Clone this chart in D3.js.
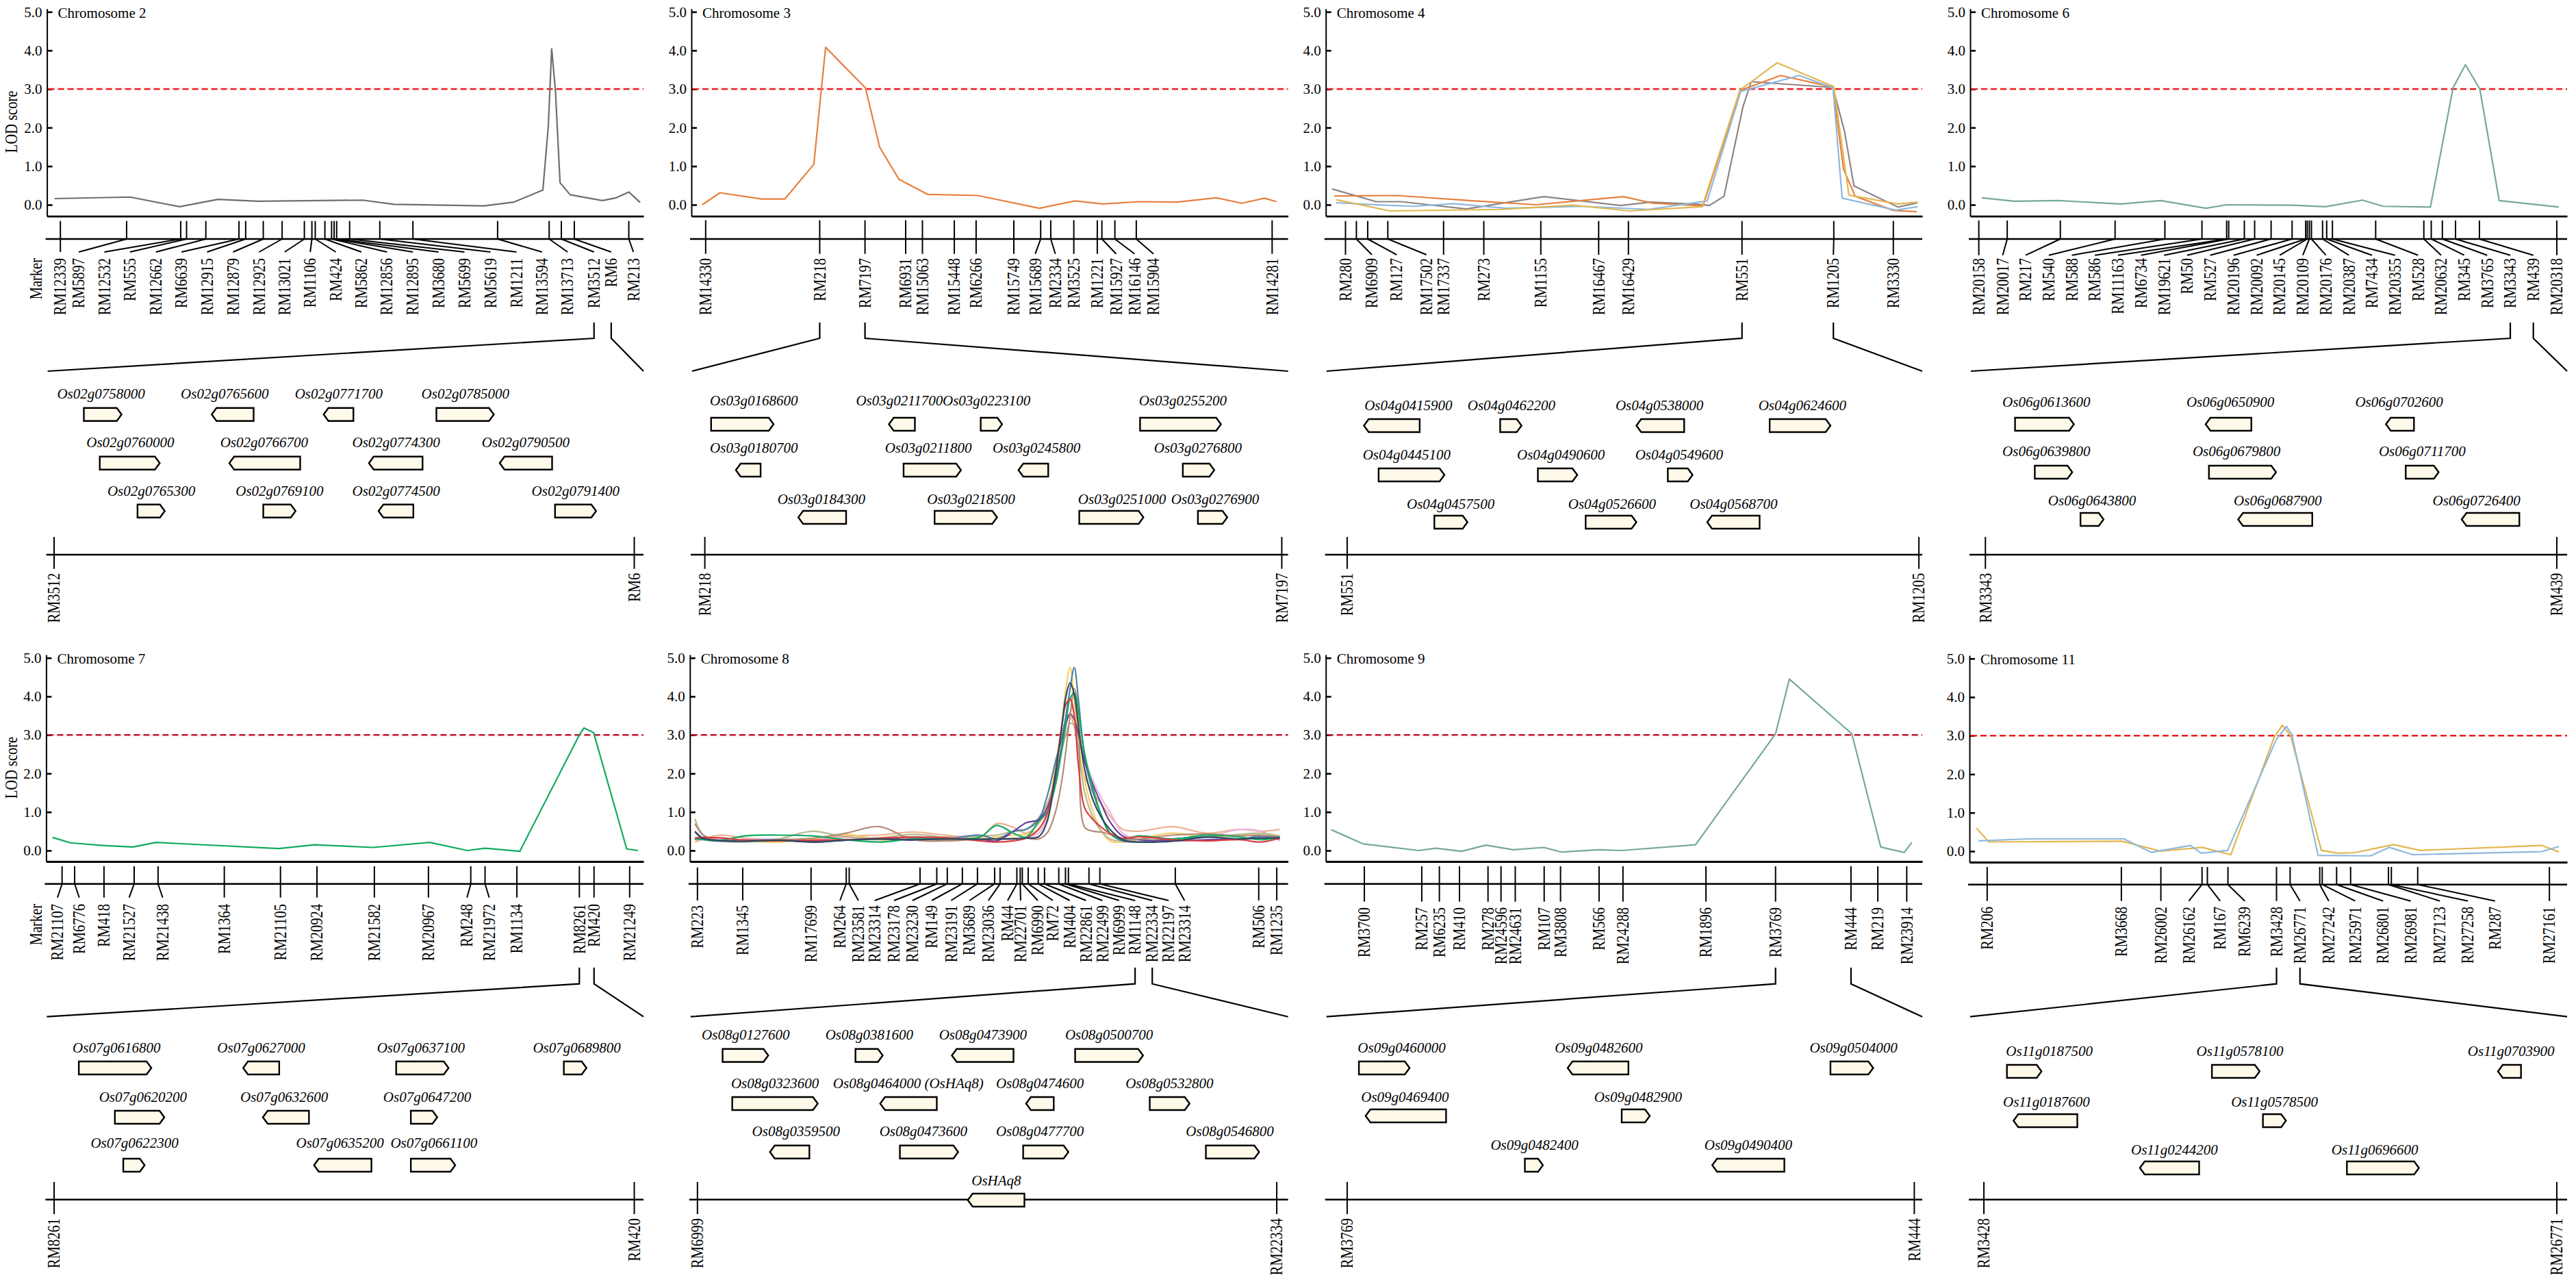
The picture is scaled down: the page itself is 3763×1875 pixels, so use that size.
<!DOCTYPE html>
<html>
<head>
<meta charset="utf-8">
<title>QTL map</title>
<script src="https://cdn.jsdelivr.net/npm/d3@7"></script>
<style>
  body { margin: 0; background: #fff; }
  text { font-family: "Liberation Serif", "Times New Roman", serif; fill: #000; }
</style>
</head>
<body>
<div id="vis"></div>
<script>
// ---- data, map positions are in arbitrary units along each chromosome panel

var lodTicks = [0, 1, 2, 3, 4, 5];
var threshold = 3;

// chromosome 2
var chr2Markers = ["RM12339","RM5897","RM12532","RM555","RM12662","RM6639","RM12915","RM12879","RM12925","RM13021","RM1106","RM424","RM5862","RM12856","RM12895","RM3680","RM5699","RM5619","RM1211","RM13594","RM13713","RM3512","RM6","RM213"];
var chr2MarkerPos = [144,302,431,445,491,570,586,628,673,726,744,752,775,791,797,803,834,906,985,1187,1310,1339,1370,1500];
var chr2LabelPos = [144,188,249,310,372,433,494,556,618,679,740,801,862,923,985,1046,1108,1170,1232,1293,1354,1417,1458,1511];
var chr2Pos = [130,310,428,520,615,865,940,1155,1226,1295,1308,1316,1325,1336,1360,1437,1470,1500,1527];
var chr2Lod = [.16,.2,-.05,.14,.09,.12,.01,-.03,.07,.38,2.05,4.04,2.95,.57,.26,.11,.18,.33,.06];
var chr2Genes = [
  ["Os02g0758000",0,241,200,290,1],["Os02g0765600",0,536,505,605,-1],["Os02g0771700",0,808,772,843,-1],["Os02g0785000",0,1110,1041,1178,1],
  ["Os02g0760000",1,311,238,381,1],["Os02g0766700",1,630,547,716,-1],["Os02g0774300",1,945,880,1008,-1],["Os02g0790500",1,1254,1192,1317,-1],
  ["Os02g0765300",2,361,328,393,1],["Os02g0769100",2,667,628,705,1],["Os02g0774500",2,945,903,986,-1],["Os02g0791400",2,1373,1324,1422,1]
];

// chromosome 3
var chr3Markers = ["RM14330","RM218","RM7197","RM6931","RM15063","RM15448","RM6266","RM15749","RM15689","RM2334","RM3525","RM1221","RM15927","RM16146","RM15904","RM14281"];
var chr3MarkerPos = [116,388,496,593,633,709,761,851,915,939,994,1050,1061,1092,1143,1467];
var chr3LabelPos = [116,388,496,593,633,709,761,851,902,950,994,1050,1095,1139,1184,1467];
var chr3Pos = [108,150,250,305,374,402,497,531,577,645,765,912,998,1063,1150,1240,1333,1395,1449,1477];
var chr3Lod = [0,.31,.15,.15,1.05,4.08,3.03,1.49,.66,.27,.24,-.09,.1,.02,.08,.07,.18,.04,.17,.08];
var chr3Genes = [
  ["Os03g0168600",0,231,129,278,1],["Os03g0211700",0,578,553,615,-1],["Os03g0223100",0,786,772,823,1],["Os03g0255200",0,1254,1152,1345,1],
  ["Os03g0180700",1,231,188,247,-1],["Os03g0211800",1,647,588,725,1],["Os03g0245800",1,905,862,933,-1],["Os03g0276800",1,1290,1254,1329,1],
  ["Os03g0184300",2,392,337,451,-1],["Os03g0218500",2,749,662,811,1],["Os03g0251000",2,1109,1007,1160,1],["Os03g0276900",2,1331,1290,1360,1]
];

// chromosome 4
var chr4Markers = ["RM280","RM6909","RM127","RM17502","RM17337","RM273","RM1155","RM16467","RM16429","RM551","RM1205","RM3330"];
var chr4MarkerPos = [107,133,160,208,341,437,573,711,782,1053,1272,1414];
var chr4LabelPos = [107,170,229,300,341,437,573,711,782,1053,1271,1414];
var chr4GrayPos = [75,180,240,395,580,764,835,950,975,1010,1055,1075,1270,1298,1320,1425,1472];
var chr4GrayLod = [.41,.08,.08,-.11,.21,-.02,.07,.01,-.02,.22,2.53,3.19,3.04,1.88,.49,-.06,.05];
var chr4OrangePos = [80,230,415,560,770,840,960,1050,1145,1270,1295,1323,1415,1470];
var chr4OrangeLod = [.23,.24,.1,0,.21,.04,-.03,2.97,3.35,3.05,.93,.22,-.15,-.18];
var chr4BluePos = [85,200,270,365,490,670,830,970,1050,1190,1270,1292,1420,1472];
var chr4BlueLod = [.05,-.01,-.04,.03,-.09,-.04,-.12,.1,2.94,3.35,3.03,.17,-.14,-.05];
var chr4YellowPos = [85,213,480,650,785,958,1048,1137,1272,1308,1425,1472];
var chr4YellowLod = [.13,-.16,-.12,-.01,-.16,-.05,2.97,3.68,3.06,.25,.02,.07];
var chr4Genes = [
  ["Os04g0415900",0,257,151,284,-1],["Os04g0462200",0,503,476,527,1],["Os04g0538000",0,856,801,915,-1],["Os04g0624600",0,1197,1119,1264,1],
  ["Os04g0445100",1,253,186,343,1],["Os04g0490600",1,621,566,660,1],["Os04g0549600",1,903,876,935,1],
  ["Os04g0457500",2,358,319,398,1],["Os04g0526600",2,743,680,801,1],["Os04g0568700",2,1033,970,1095,-1]
];

// chromosome 6
var chr6Markers = ["RM20158","RM20017","RM217","RM540","RM588","RM586","RM11163","RM6734","RM19621","RM50","RM527","RM20196","RM20092","RM20145","RM20109","RM20176","RM20387","RM7434","RM20355","RM528","RM20632","RM345","RM3765","RM3343","RM439","RM20318"];
var chr6MarkerPos = [118,187,316,449,570,660,720,725,763,788,828,879,912,916,921,926,953,963,977,1082,1199,1217,1244,1276,1334,1522];
var chr6LabelPos = [118,176,232,288,344,400,456,512,568,624,680,737,793,849,905,961,1017,1073,1129,1185,1241,1297,1353,1409,1465,1522];
var chr6Pos = [125,205,310,462,560,670,720,880,960,1050,1100,1215,1270,1300,1335,1382,1527];
var chr6Lod = [.18,.09,.11,.02,.11,-.09,0,-.01,-.05,.12,-.04,-.06,3.03,3.63,3,.11,-.06];
var chr6Genes = [
  ["Os06g0613600",0,282,206,349,1],["Os06g0650900",0,729,669,780,-1],["Os06g0702600",0,1139,1107,1175,-1],
  ["Os06g0639800",1,282,254,345,1],["Os06g0679800",1,744,677,840,1],["Os06g0711700",1,1195,1155,1235,1],
  ["Os06g0643800",2,393,365,421,1],["Os06g0687900",2,844,748,928,-1],["Os06g0726400",2,1327,1291,1431,-1]
];

// chromosome 7
var chr7Markers = ["RM21107","RM6776","RM418","RM21527","RM21438","RM1364","RM21105","RM20924","RM21582","RM20967","RM248","RM21972","RM1134","RM8261","RM420","RM21249"];
var chr7MarkerPos = [148,178,248,320,377,535,669,756,893,1022,1123,1157,1233,1382,1417,1502];
var chr7LabelPos = [137,189,248,308,388,535,669,756,893,1022,1114,1167,1233,1382,1417,1502];
var chr7Pos = [125,168,245,317,372,665,750,890,1025,1115,1157,1240,1382,1393,1416,1495,1522];
var chr7Lod = [.34,.2,.13,.09,.21,.05,.15,.08,.21,0,.06,-.02,3,3.18,3.06,.04,0];
var chr7Genes = [
  ["Os07g0616800",0,278,188,361,1],["Os07g0627000",0,623,580,666,-1],["Os07g0637100",0,1004,945,1070,1],["Os07g0689800",0,1376,1345,1399,1],
  ["Os07g0620200",1,341,274,392,1],["Os07g0632600",1,678,627,737,-1],["Os07g0647200",1,1019,980,1043,1],
  ["Os07g0622300",2,321,294,345,1],["Os07g0635200",2,811,749,886,-1],["Os07g0661100",2,1035,980,1086,1]
];

// chromosome 8, all traits read at the same map positions
var chr8Markers = ["RM223","RM1345","RM17699","RM264","RM23581","RM23314","RM23178","RM23230","RM149","RM23191","RM3689","RM23036","RM44","RM22701","RM6990","RM72","RM404","RM22861","RM22499","RM6999","RM1148","RM22334","RM22197","RM23314","RM506","RM1235"];
var chr8MarkerPos = [96,204,367,451,458,627,667,692,728,764,805,818,858,866,871,885,909,924,958,974,981,1030,1056,1236,1435,1478];
var chr8LabelPos = [96,204,367,436,480,519,565,609,655,701,745,790,836,867,908,944,984,1023,1062,1102,1140,1181,1220,1258,1435,1478];
var chr8Pos = [90,110,150,210,290,370,450,530,610,690,770,810,850,880,910,930,950,965,975,985,995,1005,1020,1040,1060,1080,1110,1150,1230,1310,1390,1440,1485];
var chr8LightOrange = [.22,.3,.4,.32,.28,.3,.38,.4,.48,.4,.35,.7,.6,.45,.7,1.1,2,3,3.35,3.5,3.2,2.6,1.9,1.5,1.2,.9,.55,.5,.62,.45,.55,.5,.55];
var chr8Pink = [.3,.28,.3,.28,.3,.28,.35,.3,.32,.35,.38,.3,.3,.35,.45,.85,1.7,2.6,3.2,3.6,3.7,3.3,2.4,1.8,1.35,1,.45,.3,.3,.35,.55,.5,.25];
var chr8Yellow = [.3,.3,.25,.24,.22,.3,.42,.28,.3,.27,.32,.35,.4,.42,.55,1,2.2,3.3,4.2,4.75,3.9,2.8,1.8,1,.5,.25,.22,.3,.45,.35,.4,.4,.38];
var chr8Khaki = [.82,.4,.25,.22,.3,.5,.35,.33,.42,.35,.38,.4,.5,.55,.85,1.2,1.9,2.6,3,3.3,3.25,2.6,1.5,.85,.5,.3,.25,.28,.3,.35,.42,.45,.38];
var chr8Steel = [.48,.3,.24,.24,.25,.24,.28,.3,.35,.3,.4,.3,.5,.55,.8,1.4,2.3,2.9,3.5,4.2,4.75,3.9,2.4,1.5,.9,.45,.25,.22,.3,.35,.3,.38,.35];
var chr8Purple = [.3,.3,.25,.27,.27,.22,.27,.3,.27,.3,.3,.25,.5,.72,.8,1.1,1.8,2.7,3.3,3.55,3.4,3,2.3,1.7,1.2,.75,.38,.28,.25,.28,.3,.32,.3];
var chr8Brown = [.7,.4,.25,.26,.28,.32,.45,.62,.28,.25,.3,.3,.32,.32,.3,.45,1,1.8,2.6,3.5,4.2,3.5,.6,.5,.48,.42,.3,.3,.4,.43,.38,.4,.35];
var chr8Green = [.3,.28,.26,.38,.4,.38,.28,.22,.3,.3,.35,.65,.45,.35,.75,1,1.7,2.6,3.3,3.95,4.08,3.6,2.5,1.6,.9,.45,.3,.38,.3,.4,.35,.28,.35];
var chr8Red = [.33,.34,.33,.27,.25,.27,.28,.32,.35,.33,.25,.22,.25,.32,.55,.95,2,3.2,3.8,3.93,3.5,2.2,1.1,.8,.6,.45,.32,.36,.28,.25,.28,.22,.32];
var chr8Navy = [.5,.32,.26,.24,.27,.22,.27,.3,.28,.3,.29,.3,.3,.32,.36,.75,2,3.2,4,4.35,4.05,3.2,2.1,1.3,.85,.55,.28,.22,.24,.35,.3,.33,.33];
var chr8Genes = [
  ["Os08g0127600",0,211,156,265,1],["Os08g0381600",0,506,473,538,1],["Os08g0473900",0,777,703,850,-1],["Os08g0500700",0,1078,997,1159,1],
  ["Os08g0323600",1,281,179,383,1],["Os08g0464000 (OsHAq8)",1,599,532,667,-1],["Os08g0474600",1,913,880,946,-1],["Os08g0532800",1,1222,1175,1270,1],
  ["Os08g0359500",2,331,269,363,-1],["Os08g0473600",2,635,579,718,1],["Os08g0477700",2,913,873,981,1],["Os08g0546800",2,1366,1309,1436,1],
  ["OsHAq8",3,809,741,876,-1]
];

// chromosome 9
var chr9Markers = ["RM3700","RM257","RM6235","RM410","RM278","RM24596","RM24631","RM107","RM3808","RM566","RM24288","RM1896","RM3769","RM444","RM219","RM23914"];
var chr9MarkerPos = [152,289,331,379,447,478,512,581,620,712,769,967,1133,1313,1377,1446];
var chr9Pos = [73,150,282,322,384,442,507,580,622,712,765,942,1133,1166,1315,1384,1440,1458];
var chr9Lod = [.54,.17,0,.06,-.02,.14,.02,.08,-.04,.02,0,.15,3.03,4.45,3.03,.09,-.05,.21];
var chr9Genes = [
  ["Os09g0460000",0,241,139,260,1],["Os09g0482600",0,711,637,782,-1],["Os09g0504000",0,1319,1264,1366,1],
  ["Os09g0469400",1,249,155,347,-1],["Os09g0482900",1,805,766,833,1],
  ["Os09g0482400",2,558,535,578,1],["Os09g0490400",2,1068,982,1154,-1]
];

// chromosome 11
var chr11Markers = ["RM206","RM3668","RM26002","RM26162","RM167","RM6239","RM3428","RM26771","RM27242","RM25971","RM26801","RM26981","RM27123","RM27258","RM287","RM27161"];
var chr11MarkerPos = [138,464,560,660,673,723,841,874,946,952,987,1021,1113,1120,1184,1504];
var chr11LabelPos = [138,464,560,628,704,764,841,898,968,1032,1100,1167,1238,1306,1372,1504];
var chr11YellowPos = [112,142,465,560,660,730,835,855,875,950,990,1030,1125,1190,1485,1527];
var chr11YellowLod = [.6,.24,.26,0,.1,-.09,2.95,3.27,3,.02,-.05,-.04,.17,.02,.15,-.02];
var chr11BluePos = [117,240,470,537,632,658,722,840,865,878,942,1070,1115,1172,1485,1527];
var chr11BlueLod = [.27,.32,.32,-.03,.15,-.05,.02,2.89,3.24,3.03,-.11,-.12,.1,-.09,-.01,.12];
var chr11Genes = [
  ["Os11g0187500",0,289,186,270,1],["Os11g0578100",0,752,684,800,1],["Os11g0703900",0,1411,1379,1435,-1],
  ["Os11g0187600",1,282,202,357,-1],["Os11g0578500",1,836,808,864,1],
  ["Os11g0244200",2,593,509,653,-1],["Os11g0696600",2,1080,1012,1187,1]
];

// ---- layout

var width = 3763;
var height = 1875;

var colors = {
  gray: "#716d6d", orange: "#e6803f", blue: "#8fb8dc", yellow: "#e3b650", teal: "#75a899", green: "#0fab5f",
  lightOrange: "#eeb18f", pink: "#ecb4e4", paleYellow: "#f7cf62", khaki: "#b6b98e", steel: "#4d80a6",
  purple: "#6b3f9c", brown: "#b58b7a", red: "#d93c3f", navy: "#30485f"
};

// y values of the top and bottom row
var topRow = { y5: 17.3, y0: 299, axis: 315.7, up: 12.7, markerLine: 349, stubTop: 471, stubBottom: 494, fanEnd: 542, regionLine: 810, regionTop: 784, regionBottom: 830.7, regionLabel: 836.7 };
var botRow = { y5: 960.7, y0: 1242, axis: 1258, up: 956, markerLine: 1290.7, stubTop: 1413, stubBottom: 1436.7, fanEnd: 1484.7, regionLine: 1751.7, regionTop: 1726, regionBottom: 1773, regionLabel: 1779 };

var panels = [
  { title: "Chromosome 2", left: 68.6, right: 940, domain: [112,1535], row: topRow, first: true, tickTop: 322.7, connBottom: 368, labelTop: 377,
    markers: chr2Markers, markerPos: chr2MarkerPos, labelPos: chr2LabelPos, zoomFrom: [21,22], regionPos: [129,1513],
    series: [{ pos: chr2Pos, lod: chr2Lod, color: colors.gray }], genes: chr2Genes, geneLabelY: [576,647,718], geneBoxY: [595.7,666.7,736.7], dash: "#ef1a1d" },
  { title: "Chromosome 3", left: 1010, right: 1881.6, domain: [82,1505], row: topRow, tickTop: 321.7, connBottom: 370.7, labelTop: 377,
    markers: chr3Markers, markerPos: chr3MarkerPos, labelPos: chr3LabelPos, zoomFrom: [1,2], regionPos: [114,1490],
    series: [{ pos: chr3Pos, lod: chr3Lod, color: colors.orange }], genes: chr3Genes, geneLabelY: [586,655,730], geneBoxY: [610,677,746], dash: "#ef1a1d" },
  { title: "Chromosome 4", left: 1936.7, right: 2808, domain: [60,1483], row: topRow, tickTop: 322.7, connBottom: 372, labelTop: 377,
    markers: chr4Markers, markerPos: chr4MarkerPos, labelPos: chr4LabelPos, zoomFrom: [9,10], regionPos: [111,1475],
    series: [
      { pos: chr4GrayPos, lod: chr4GrayLod, color: "#8d8585" },
      { pos: chr4OrangePos, lod: chr4OrangeLod, color: colors.orange },
      { pos: chr4BluePos, lod: chr4BlueLod, color: colors.blue },
      { pos: chr4YellowPos, lod: chr4YellowLod, color: colors.yellow }
    ], genes: chr4Genes, geneLabelY: [593,665,737], geneBoxY: [612,684,753], dash: "#ef1a1d" },
  { title: "Chromosome 6", left: 2878, right: 3750, domain: [97,1547], row: topRow, tickTop: 322, connBottom: 372.7, labelTop: 377,
    markers: chr6Markers, markerPos: chr6MarkerPos, labelPos: chr6LabelPos, zoomFrom: [23,24], regionPos: [134,1522],
    series: [{ pos: chr6Pos, lod: chr6Lod, color: colors.teal }], genes: chr6Genes, geneLabelY: [588,660,732], geneBoxY: [610,680,749], dash: "#ef1a1d" },
  { title: "Chromosome 7", left: 67.4, right: 940, domain: [110,1535], row: botRow, first: true, tickTop: 1265, connBottom: 1310.7, labelTop: 1320,
    markers: chr7Markers, markerPos: chr7MarkerPos, labelPos: chr7LabelPos, zoomFrom: [13,14], regionPos: [129,1513],
    series: [{ pos: chr7Pos, lod: chr7Lod, color: colors.green }], genes: chr7Genes, geneLabelY: [1531,1603,1670], geneBoxY: [1550,1622,1692], dash: "#c5122e" },
  { title: "Chromosome 8", left: 1007.8, right: 1881.6, domain: [78,1505], row: botRow, tickTop: 1266.7, connBottom: 1315, labelTop: 1322, smooth: true,
    markers: chr8Markers, markerPos: chr8MarkerPos, labelPos: chr8LabelPos, zoomFrom: [20,21], regionPos: [96,1478],
    series: [
      { pos: chr8Pos, lod: chr8LightOrange, color: colors.lightOrange },
      { pos: chr8Pos, lod: chr8Pink, color: colors.pink },
      { pos: chr8Pos, lod: chr8Yellow, color: colors.paleYellow },
      { pos: chr8Pos, lod: chr8Khaki, color: colors.khaki },
      { pos: chr8Pos, lod: chr8Steel, color: colors.steel },
      { pos: chr8Pos, lod: chr8Purple, color: colors.purple },
      { pos: chr8Pos, lod: chr8Brown, color: colors.brown },
      { pos: chr8Pos, lod: chr8Green, color: colors.green },
      { pos: chr8Pos, lod: chr8Red, color: colors.red },
      { pos: chr8Pos, lod: chr8Navy, color: colors.navy }
    ], genes: chr8Genes, geneLabelY: [1512,1583,1653,1725], geneBoxY: [1531.7,1602,1672.7,1743], dash: "#c5122e" },
  { title: "Chromosome 9", left: 1936.7, right: 2808, domain: [60,1483], row: botRow, tickTop: 1265, connBottom: 1316.7, labelTop: 1325,
    markers: chr9Markers, markerPos: chr9MarkerPos, labelPos: chr9MarkerPos, zoomFrom: [12,13], regionPos: [111,1464],
    series: [{ pos: chr9Pos, lod: chr9Lod, color: colors.teal }], genes: chr9Genes, geneLabelY: [1531,1603,1673], geneBoxY: [1550,1620,1692], dash: "#c5122e" },
  { title: "Chromosome 11", left: 2877, right: 3750, domain: [95,1547], row: botRow, shift: 1, tickTop: 1266, connBottom: 1315.7, labelTop: 1324,
    markers: chr11Markers, markerPos: chr11MarkerPos, labelPos: chr11LabelPos, zoomFrom: [6,7], regionPos: [130,1522],
    series: [{ pos: chr11YellowPos, lod: chr11YellowLod, color: colors.yellow }, { pos: chr11BluePos, lod: chr11BlueLod, color: colors.blue }],
    genes: chr11Genes, geneLabelY: [1536,1610,1680], geneBoxY: [1555,1627,1696], dash: "#f01a1d" }
];

var fontSize = 21;
var boxHeight = 19;
var arrowTip = 7;

var svg = d3.select("#vis").append("svg")
  .attr("width", width)
  .attr("height", height)
  .style("display", "block");

panels.forEach(drawPanel);

function drawPanel(p) {
  var r = p.row;
  var shift = p.shift || 0;
  var g = svg.append("g").attr("class", "panel");

  var x = d3.scaleLinear().domain(p.domain).range([p.left, p.right]);

  // the value scale runs a bit beyond 0-5 so the axis reaches the baseline
  var perUnit = (r.y0 - r.y5) / 5;
  var y = d3.scaleLinear()
    .domain([(r.y0 - r.axis) / perUnit, (r.y0 - r.up) / perUnit])
    .range([r.axis + shift, r.up + shift]);

  var yAxis = d3.axisLeft(y)
    .tickValues(lodTicks)
    .tickSizeInner(-8)
    .tickSizeOuter(0)
    .tickPadding(7)
    .tickFormat(d3.format(".1f"));

  var yG = g.append("g")
    .attr("transform", "translate(" + p.left + ",0)")
    .call(yAxis);
  yG.selectAll("text").style("font-size", fontSize + "px").attr("fill", "#000");
  yG.selectAll("line").attr("stroke", "#000").attr("stroke-width", 2.6);
  yG.select(".domain").attr("stroke", "#000").attr("stroke-width", 2);

  var xAxis = d3.axisBottom(x).tickValues([]).tickSizeOuter(0);
  var xG = g.append("g")
    .attr("transform", "translate(0," + (r.axis + shift) + ")")
    .call(xAxis);
  xG.select(".domain").attr("stroke", "#000").attr("stroke-width", 2.8);

  g.append("text")
    .attr("x", p.left + 16)
    .attr("y", y(5) + 1)
    .attr("dy", "0.35em")
    .style("font-size", fontSize + "px")
    .text(p.title);

  // LOD threshold
  g.append("line")
    .attr("x1", p.left + 2).attr("x2", p.right)
    .attr("y1", y(threshold)).attr("y2", y(threshold))
    .attr("stroke", p.dash)
    .attr("stroke-width", 2.6)
    .attr("stroke-dasharray", "9 5");

  var line = d3.line()
    .x(function(d) { return x(d[0]); })
    .y(function(d) { return y(d[1]); });
  if (p.smooth) line.curve(d3.curveCatmullRom.alpha(0.5));

  p.series.forEach(function(s) {
    g.append("path")
      .datum(d3.zip(s.pos, s.lod))
      .attr("fill", "none")
      .attr("stroke", s.color)
      .attr("stroke-width", 2.2)
      .attr("stroke-linejoin", "round")
      .attr("d", line);
  });

  // linkage map
  var lineY = r.markerLine + shift;
  g.append("line")
    .attr("x1", p.left - 2).attr("x2", p.right)
    .attr("y1", lineY).attr("y2", lineY)
    .attr("stroke", "#000").attr("stroke-width", 2.6);

  g.selectAll(".marker-tick")
    .data(p.markerPos)
    .enter().append("line")
    .attr("class", "marker-tick")
    .attr("x1", x).attr("x2", x)
    .attr("y1", p.tickTop).attr("y2", lineY)
    .attr("stroke", "#000").attr("stroke-width", 2);

  g.selectAll(".marker-link")
    .data(p.markerPos)
    .enter().append("line")
    .attr("class", "marker-link")
    .attr("x1", x)
    .attr("x2", function(d, i) { return x(p.labelPos[i]); })
    .attr("y1", lineY)
    .attr("y2", p.connBottom)
    .attr("stroke", "#000").attr("stroke-width", 2);

  g.selectAll(".marker-label")
    .data(p.markers)
    .enter().append("text")
    .attr("class", "marker-label")
    .attr("transform", function(d, i) { return sideways(x(p.labelPos[i]), p.labelTop); })
    .attr("dy", "0.33em")
    .attr("text-anchor", "end")
    .style("font-size", "25px")
    .text(function(d) { return d; });

  if (p.first) {
    g.append("text")
      .attr("transform", "translate(17," + (y(2.15)) + ") rotate(-90) scale(0.82,1)")
      .attr("dy", "0.33em")
      .attr("text-anchor", "middle")
      .style("font-size", "25px")
      .text("LOD score");
    g.append("text")
      .attr("transform", sideways(52.5, p.labelTop))
      .attr("dy", "0.33em")
      .attr("text-anchor", "end")
      .style("font-size", "25px")
      .text("Marker");
  }

  // fan out to the mapped region
  var fromL = x(p.labelPos[p.zoomFrom[0]]);
  var fromR = x(p.labelPos[p.zoomFrom[1]]);
  var fan = d3.line();
  [[fromL, p.left + 1], [fromR, p.right]].forEach(function(e) {
    g.append("path")
      .attr("d", fan([[e[0], r.stubTop], [e[0], r.stubBottom], [e[1], r.fanEnd]]))
      .attr("fill", "none").attr("stroke", "#000").attr("stroke-width", 2.2);
  });

  // region line with its two flanking markers
  g.append("line")
    .attr("x1", p.left - 1).attr("x2", p.right)
    .attr("y1", r.regionLine).attr("y2", r.regionLine)
    .attr("stroke", "#000").attr("stroke-width", 2.6);
  g.selectAll(".region-end")
    .data(p.regionPos)
    .enter().append("line")
    .attr("class", "region-end")
    .attr("x1", x).attr("x2", x)
    .attr("y1", r.regionTop).attr("y2", r.regionBottom)
    .attr("stroke", "#000").attr("stroke-width", 2);
  var flank = [p.markers[p.zoomFrom[0]], p.markers[p.zoomFrom[1]]];
  if (p.title == "Chromosome 8") flank = ["RM6999", "RM22334"];
  g.selectAll(".region-label")
    .data(flank)
    .enter().append("text")
    .attr("class", "region-label")
    .attr("transform", function(d, i) { return sideways(x(p.regionPos[i]), r.regionLabel); })
    .attr("dy", "0.33em")
    .attr("text-anchor", "end")
    .style("font-size", "25px")
    .text(function(d) { return d; });

  // genes
  var gene = g.selectAll(".gene")
    .data(p.genes)
    .enter().append("g")
    .attr("class", "gene");

  gene.append("text")
    .attr("x", function(d) { return x(d[2]); })
    .attr("y", function(d) { return p.geneLabelY[d[1]]; })
    .attr("dy", "0.3em")
    .attr("text-anchor", "middle")
    .style("font-size", fontSize + "px")
    .style("font-style", "italic")
    .text(function(d) { return d[0]; });

  gene.append("path")
    .attr("d", function(d) {
      return genePath(x(d[3]), x(d[4]), p.geneBoxY[d[1]], d[5]);
    })
    .attr("fill", "#fff9e9")
    .attr("stroke", "#000")
    .attr("stroke-width", 2.4);
}

// rotated label, stretched across its length like the reference
function sideways(px, py) {
  return "translate(" + px + "," + py + ") rotate(-90) scale(0.82,1)";
}

function genePath(x0, x1, top, dir) {
  var mid = top + boxHeight / 2;
  var bot = top + boxHeight;
  if (dir > 0) {
    return "M" + x0 + "," + top + "L" + (x1 - arrowTip) + "," + top + "L" + x1 + "," + mid +
      "L" + (x1 - arrowTip) + "," + bot + "L" + x0 + "," + bot + "Z";
  }
  return "M" + x1 + "," + top + "L" + (x0 + arrowTip) + "," + top + "L" + x0 + "," + mid +
    "L" + (x0 + arrowTip) + "," + bot + "L" + x1 + "," + bot + "Z";
}
</script>
</body>
</html>
